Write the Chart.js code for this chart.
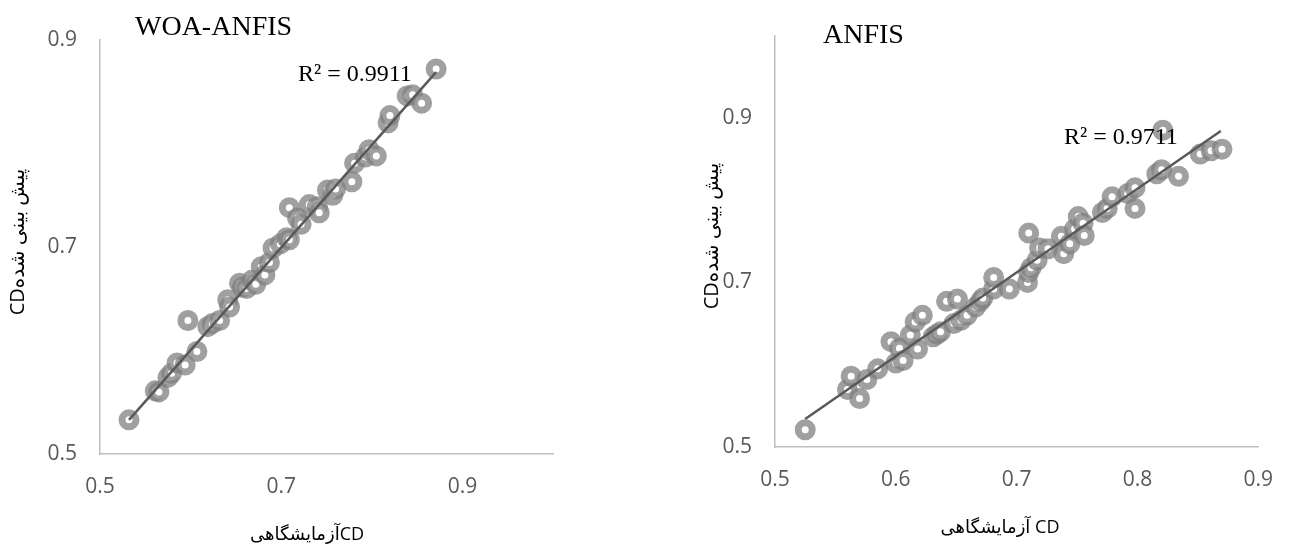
<!DOCTYPE html>
<html><head><meta charset="utf-8">
<script src="https://cdn.jsdelivr.net/npm/chart.js@4/dist/chart.umd.min.js"></script>
<style>
html,body{margin:0;padding:0;background:#fff;width:1293px;height:559px;overflow:hidden}
canvas{position:absolute;top:0}
#c1{left:0}
#c2{left:640px}
</style></head><body>
<canvas id="c1" width="600" height="559"></canvas>
<canvas id="c2" width="653" height="559"></canvas>
<script>
// ---------- data ----------
const woaTitle = 'WOA-ANFIS';
const anfisTitle = 'ANFIS';
const woaR2 = 'R² = 0.9911';
const anfisR2 = 'R² = 0.9711';
const woaXTitle = 'آزمایشگاهیCD';
const anfisXTitle = 'آزمایشگاهی CD';
const yTitle = 'CDپیش بینی شده';

const woaObserved = [0.532,0.561,0.565,0.575,0.579,0.585,0.594,0.597,0.607,0.619,0.624,0.632,0.641,0.643,0.654,0.657,0.662,0.668,0.672,0.678,0.682,0.687,0.691,0.699,0.706,0.709,0.709,0.718,0.722,0.731,0.740,0.742,0.751,0.757,0.760,0.778,0.781,0.793,0.797,0.805,0.818,0.820,0.839,0.845,0.855,0.871];
const woaPredicted = [0.533,0.561,0.560,0.574,0.578,0.588,0.586,0.629,0.599,0.623,0.626,0.629,0.649,0.642,0.665,0.661,0.660,0.668,0.664,0.681,0.673,0.685,0.699,0.703,0.709,0.707,0.738,0.728,0.722,0.741,0.739,0.733,0.755,0.750,0.756,0.763,0.781,0.787,0.794,0.788,0.820,0.827,0.846,0.847,0.839,0.872];
const woaTrendX = [0.532, 0.871];
const woaTrendY = [0.533, 0.869];

const anfisObserved = [0.525,0.560,0.563,0.570,0.576,0.585,0.596,0.600,0.603,0.606,0.612,0.616,0.618,0.622,0.631,0.634,0.637,0.642,0.648,0.651,0.654,0.659,0.666,0.670,0.672,0.681,0.681,0.694,0.709,0.710,0.710,0.712,0.717,0.719,0.726,0.737,0.739,0.744,0.748,0.751,0.755,0.756,0.771,0.775,0.779,0.792,0.798,0.798,0.816,0.820,0.821,0.834,0.852,0.861,0.870];
const anfisPredicted = [0.521,0.570,0.586,0.559,0.582,0.595,0.628,0.602,0.620,0.605,0.636,0.652,0.619,0.660,0.634,0.637,0.640,0.677,0.650,0.680,0.654,0.660,0.670,0.677,0.681,0.692,0.706,0.692,0.700,0.712,0.760,0.718,0.727,0.742,0.741,0.756,0.735,0.747,0.765,0.780,0.772,0.757,0.785,0.790,0.804,0.808,0.815,0.790,0.832,0.837,0.885,0.829,0.856,0.860,0.862];
const anfisTrendX = [0.525, 0.869];
const anfisTrendY = [0.534, 0.884];

const woaXTicks = [0.5, 0.7, 0.9];
const woaYTicks = [0.5, 0.7, 0.9];
const anfisXTicks = [0.5, 0.6, 0.7, 0.8, 0.9];
const anfisYTicks = [0.5, 0.7, 0.9];

// ---------- styles ----------
const tickFont = {family: "'Open Sans','DejaVu Sans',sans-serif", size: 21};
const xTitleFont = "18px 'Open Sans','DejaVu Sans',sans-serif";
const yTitleFont = "20px 'Open Sans','DejaVu Sans',sans-serif";
const serifFont = "'Liberation Serif','Times New Roman',serif";
const axisColor = 'rgb(191,191,191)';

const textPlugin = {
  id: 'texts',
  afterDraw(chart, args, opts) {
    const ctx = chart.ctx;
    (opts.items || []).forEach(t => {
      ctx.save();
      ctx.font = t.font;
      ctx.fillStyle = t.color;
      ctx.textAlign = t.align || 'left';
      ctx.textBaseline = 'middle';
      ctx.translate(t.x, t.y);
      if (t.rotate) ctx.rotate(t.rotate);
      ctx.fillText(t.text, 0, 0);
      ctx.restore();
    });
  }
};

function pts(xs, ys) { return xs.map((x, i) => ({x: x, y: ys[i]})); }

function makeChart(id, o) {
  return new Chart(document.getElementById(id), {
    type: 'scatter',
    data: {
      datasets: [
        {
          data: pts(o.trendX, o.trendY),
          showLine: true,
          borderColor: '#595959',
          borderWidth: 2.5,
          pointRadius: 0,
          order: 0
        },
        {
          data: pts(o.obs, o.pred),
          pointRadius: 7,
          pointBorderWidth: 7,
          pointBorderColor: 'rgba(128,128,128,0.75)',
          pointBackgroundColor: '#ffffff',
          order: 1
        }
      ]
    },
    options: {
      responsive: false,
      animation: false,
      devicePixelRatio: 1,
      layout: {padding: o.padding},
      plugins: {
        legend: {display: false},
        tooltip: {enabled: false},
        texts: {items: o.texts}
      },
      scales: {
        x: {
          type: 'linear', min: o.xMin, max: o.xMax,
          afterBuildTicks: s => { s.ticks = o.xTicks.map(v => ({value: v})); },
          afterFit: s => { s.height = o.xHeight; },
          grid: {display: false, drawTicks: false},
          border: {display: true, color: axisColor, width: 1.5},
          ticks: {padding: 20, color: '#595959', font: tickFont, maxRotation: 0,
                  callback: v => Number(v).toFixed(1)}
        },
        y: {
          type: 'linear', min: o.yMin, max: o.yMax,
          afterBuildTicks: s => { s.ticks = o.yTicks.map(v => ({value: v})); },
          afterFit: s => { s.width = o.yWidth; },
          grid: {display: false, drawTicks: false},
          border: {display: true, color: axisColor, width: 1.5},
          ticks: {padding: 23, color: '#595959', font: tickFont,
                  callback: v => Number(v).toFixed(1)}
        }
      }
    },
    plugins: [textPlugin]
  });
}

makeChart('c1', {
  obs: woaObserved, pred: woaPredicted, trendX: woaTrendX, trendY: woaTrendY,
  xMin: 0.5, xMax: 1.0, yMin: 0.5, yMax: 0.9,
  xTicks: woaXTicks, yTicks: woaYTicks,
  padding: {left: 0, right: 47, top: 40, bottom: 0},
  xHeight: 105, yWidth: 100,
  texts: [
    {text: woaTitle, x: 135, y: 28, font: "28px " + serifFont, color: '#000'},
    {text: woaR2, x: 298, y: 75, font: "24px " + serifFont, color: '#000'},
    {text: woaXTitle, x: 307, y: 535, align: 'center', font: xTitleFont, color: '#000'},
    {text: yTitle, x: 18, y: 242, align: 'center', rotate: -Math.PI / 2, font: yTitleFont, color: '#000'}
  ]
});

makeChart('c2', {
  obs: anfisObserved, pred: anfisPredicted, trendX: anfisTrendX, trendY: anfisTrendY,
  xMin: 0.5, xMax: 0.9, yMin: 0.5, yMax: 1.0,
  xTicks: anfisXTicks, yTicks: anfisYTicks,
  padding: {left: 0, right: 16, top: 30, bottom: 0},
  xHeight: 112, yWidth: 135,
  texts: [
    {text: anfisTitle, x: 183, y: 36, font: "28px " + serifFont, color: '#000'},
    {text: anfisR2, x: 424, y: 138, font: "24px " + serifFont, color: '#000'},
    {text: anfisXTitle, x: 360, y: 528, align: 'center', font: xTitleFont, color: '#000'},
    {text: yTitle, x: 72, y: 236, align: 'center', rotate: -Math.PI / 2, font: yTitleFont, color: '#000'}
  ]
});
</script>
</body></html>
